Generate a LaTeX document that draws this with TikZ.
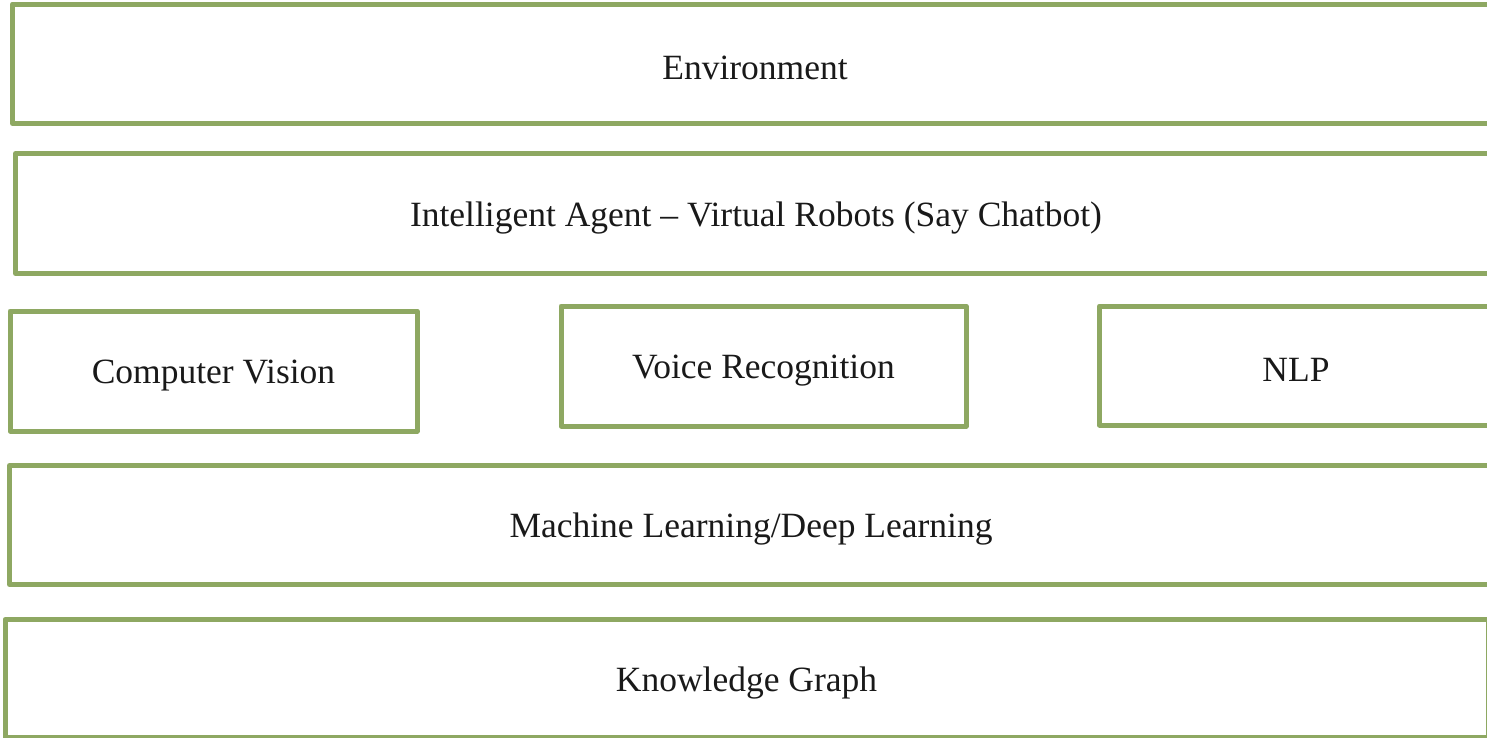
\documentclass[tikz,border=0pt]{standalone}
\usepackage{fontspec}
\setmainfont{Liberation Serif}
\definecolor{boxgreen}{RGB}{142,168,98}
\newcommand{\laytext}[1]{\raisebox{-4.5pt}[\height][\depth]{#1}}
\tikzset{
  layer/.style={draw=boxgreen, line width=5pt, line join=round, rectangle, inner sep=0pt,
    font=\fontsize{35.5}{42}\selectfont, text=black!90},
}
\begin{document}
\begin{tikzpicture}[x=1pt,y=-1pt]
\useasboundingbox (0,0) rectangle (1487,737);
\clip (0,0) rectangle (1487,737);
\node[layer, minimum width=1485pt, minimum height=119.5pt] (env) at (755,63.75) {\laytext{Environment}};
\node[layer, minimum width=1481pt, minimum height=120pt] (agent) at (756,213.5) {\laytext{Intelligent Agent -- Virtual Robots (Say Chatbot)}};
\node[layer, minimum width=407pt, minimum height=120pt] (cv) at (213.5,371) {\laytext{Computer Vision}};
\node[layer, minimum width=405pt, minimum height=120pt] (voice) at (763.5,366) {\laytext{Voice Recognition}};
\node[layer, minimum width=393pt, minimum height=119pt] (nlp) at (1296,365.5) {\laytext{NLP}};
\node[layer, minimum width=1483pt, minimum height=119pt] (ml) at (751,525) {\laytext{Machine Learning/Deep Learning}};
\node[layer, minimum width=1483pt, minimum height=118pt] (kg) at (746.5,678.5) {\laytext{Knowledge Graph}};
\end{tikzpicture}
\end{document}
